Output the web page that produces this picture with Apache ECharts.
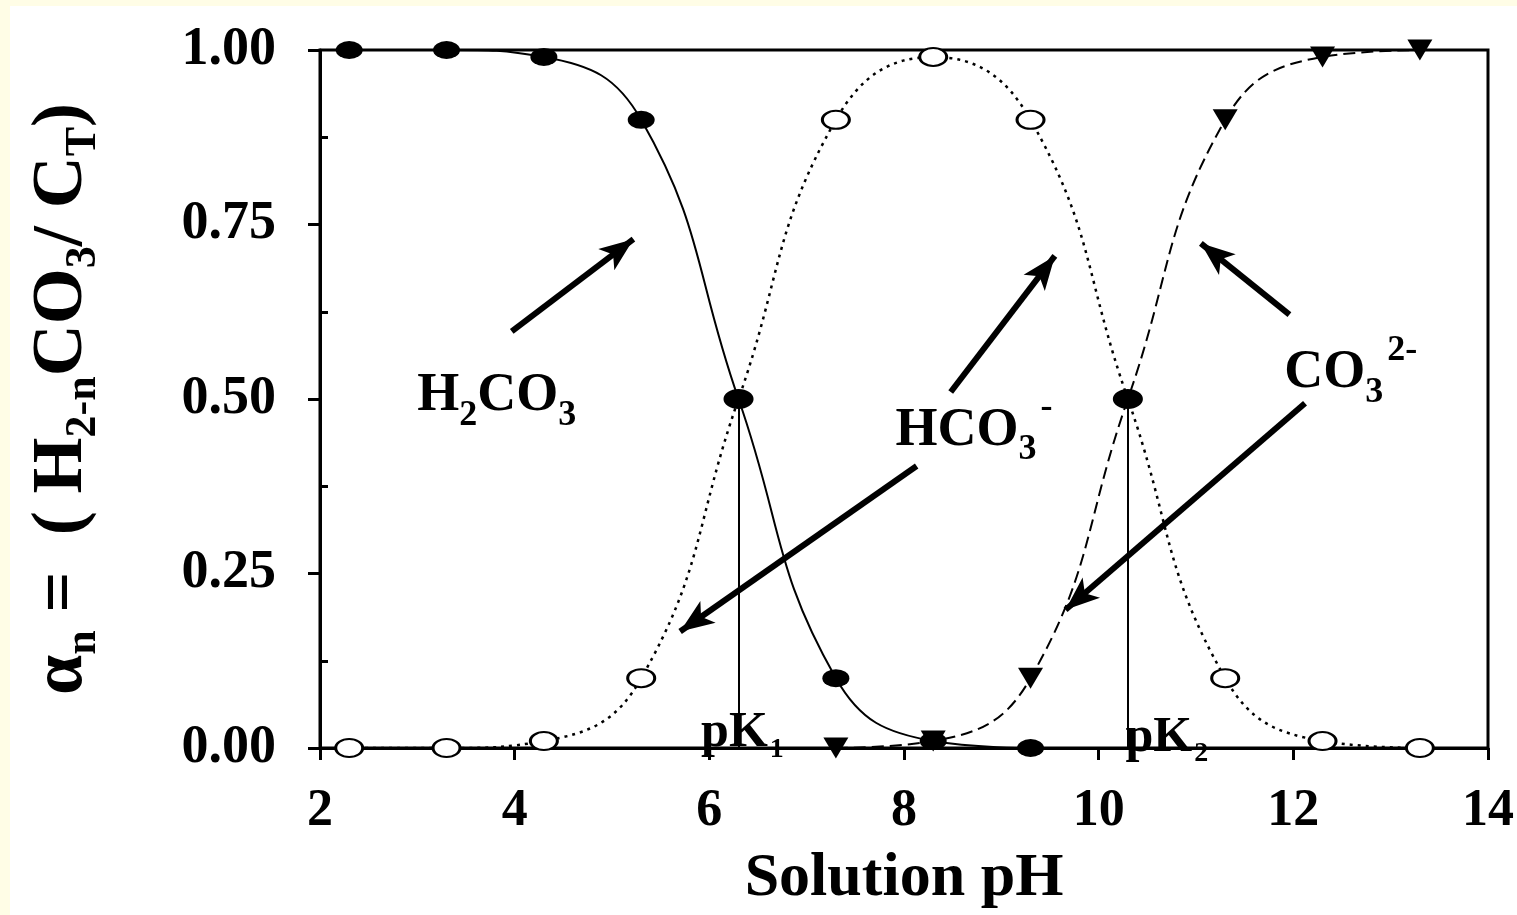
<!DOCTYPE html>
<html><head><meta charset="utf-8">
<script src="https://cdn.jsdelivr.net/npm/echarts@6/dist/echarts.min.js"></script>
<style>
html,body{margin:0;padding:0;background:#fffde6;width:1517px;height:915px;overflow:hidden}
#c{position:absolute;left:10px;top:6px;width:1507px;height:909px;background:#fff}
</style></head><body><div id="c"></div>
<script>
// ---- data ----
const pH = [2.3, 3.3, 4.3, 5.3, 6.3, 7.3, 8.3, 9.3, 10.3, 11.3, 12.3, 13.3];
const alphaH2CO3 = [1.00, 1.00, 0.99, 0.90, 0.50, 0.10, 0.01, 0.00, null, null, null, null];
const alphaHCO3  = [0.00, 0.00, 0.01, 0.10, 0.50, 0.90, 0.99, 0.90, 0.50, 0.10, 0.01, 0.00];
const alphaCO3   = [null, null, null, null, null, 0.00, 0.01, 0.10, 0.50, 0.90, 0.99, 1.00];
const co3CirclePH = 10.3; // this CO3 point is drawn as a filled circle in the original
const xMin = 2, xMax = 14, xStep = 2;
const yMin = 0, yMax = 1, yStep = 0.25;
const pKValues = [6.3, 10.3];
const pKTop = 0.5;
// text annotations (data coordinates)
const labelNames = ['H2CO3', 'HCO3-', 'CO3 2-', 'pK1', 'pK2'];
const labelX = [3.815, 8.72, 12.59, 6.34, 10.70];
const labelY = [0.524, 0.474, 0.557, 0.021, 0.014];
// arrows (data coordinates): tail -> head
const arrowTailX = [3.97, 8.48, 8.13, 11.96, 12.12];
const arrowTailY = [0.597, 0.51, 0.404, 0.621, 0.494];
const arrowHeadX = [5.22, 9.55, 5.70, 11.05, 9.66];
const arrowHeadY = [0.729, 0.705, 0.167, 0.723, 0.198];

// ---- chart ----
const serif = '"Liberation Serif", "Times New Roman", serif';
const chart = echarts.init(document.getElementById('c'));
const toPairs = (vals) => pH.map((x, i) => vals[i] == null ? null : [x, vals[i]]).filter(Boolean);

const richAnno = {
  m: {fontSize: 54, fontWeight: 'bold', fontFamily: serif, color: '#000', lineHeight: 54, verticalAlign: 'top', padding: [14, 0, 0, 0]},
  s: {fontSize: 36, fontWeight: 'bold', fontFamily: serif, color: '#000', lineHeight: 36, verticalAlign: 'top', padding: [42, 0, 0, 0]},
  u: {fontSize: 36, fontWeight: 'bold', fontFamily: serif, color: '#000', lineHeight: 36, verticalAlign: 'top', padding: [0, 0, 0, 4]},
  p: {fontSize: 50, fontWeight: 'bold', fontFamily: serif, color: '#000', lineHeight: 50, verticalAlign: 'top'},
  ps: {fontSize: 28, fontWeight: 'bold', fontFamily: serif, color: '#000', lineHeight: 28, verticalAlign: 'top', padding: [27, 0, 0, 2]}
};
const labelRich = {
  'H2CO3': '{m|H}{s|2}{m|CO}{s|3}',
  'HCO3-': '{m|HCO}{s|3}{u|-}',
  'CO3 2-': '{m|CO}{s|3}{u|2-}',
  'pK1': '{p|pK}{ps|1}',
  'pK2': '{p|pK}{ps|2}'
};

const co3Data = toPairs(alphaCO3).map(p => p[0] === co3CirclePH
  ? {value: p, symbol: 'circle', symbolRotate: 0, symbolSize: [27, 18]}
  : {value: p});

const option = {
  animation: false,
  backgroundColor: '#fff',
  grid: {left: 310, right: 27, top: 44, bottom: 165, show: true, borderColor: '#000', borderWidth: 3, backgroundColor: '#fff'},
  xAxis: {
    type: 'value', min: xMin, max: xMax, interval: xStep,
    name: 'Solution pH', nameLocation: 'middle', nameGap: 100,
    nameTextStyle: {fontFamily: serif, fontWeight: 'bold', fontSize: 62, color: '#000'},
    axisLine: {lineStyle: {color: '#000', width: 3}},
    axisTick: {length: 12, lineStyle: {color: '#000', width: 3}},
    axisLabel: {margin: 38, fontFamily: serif, fontWeight: 'bold', fontSize: 52, color: '#000'},
    splitLine: {show: false}
  },
  yAxis: [{
    type: 'value', min: yMin, max: yMax, interval: yStep,
    name: '{a|α}{n|n}{a| =  ( H}{n|2-n}{a|CO}{n|3}{a|/ C}{n|T}{a|)}',
    nameLocation: 'middle', nameRotate: 90, nameGap: 222,
    nameTextStyle: {
      rich: {
        a: {fontSize: 72, fontWeight: 'bold', fontFamily: serif, color: '#000', lineHeight: 72, verticalAlign: 'top'},
        n: {fontSize: 44, fontWeight: 'bold', fontFamily: serif, color: '#000', lineHeight: 44, verticalAlign: 'top', padding: [36, 0, 0, 0]}
      }
    },
    axisLine: {lineStyle: {color: '#000', width: 3}},
    axisTick: {length: 12, lineStyle: {color: '#000', width: 3}},
    axisLabel: {margin: 44, fontFamily: serif, fontWeight: 'bold', fontSize: 54, color: '#000', formatter: v => v.toFixed(2)},
    splitLine: {show: false}
  }, {
    type: 'value', min: yMin, max: yMax, interval: yStep, position: 'left',
    axisLine: {show: false},
    axisTick: {show: false, inside: true},
    minorTick: {show: true, splitNumber: 2, length: 8, lineStyle: {color: '#000', width: 3}},
    axisLabel: {show: false},
    splitLine: {show: false}
  }],
  series: [
    {
      name: 'HCO3-', type: 'line', data: toPairs(alphaHCO3), smooth: 0.45, clip: false, z: 2,
      symbol: 'circle', symbolSize: [27, 18], showAllSymbol: true,
      itemStyle: {color: '#fff', borderColor: '#000', borderWidth: 2.5},
      lineStyle: {color: '#000', width: 2.5, type: [3, 5]}
    },
    {
      name: 'H2CO3', type: 'line', data: toPairs(alphaH2CO3), smooth: 0.45, clip: false, z: 3,
      symbol: 'circle', symbolSize: [27, 18], showAllSymbol: true,
      itemStyle: {color: '#000'},
      lineStyle: {color: '#000', width: 2}
    },
    {
      name: 'CO3 2-', type: 'line', data: co3Data, smooth: 0.45, clip: false, z: 4,
      symbol: 'triangle', symbolRotate: 180, symbolSize: [25, 21], showAllSymbol: true,
      itemStyle: {color: '#000'},
      lineStyle: {color: '#000', width: 2, type: [12, 6]}
    },
    {
      name: 'pK', type: 'line', data: [], z: 1, silent: true,
      markLine: {
        silent: true, animation: false, symbol: 'none', label: {show: false},
        lineStyle: {color: '#000', width: 2, type: 'solid'},
        data: pKValues.map(v => [{coord: [v, yMin]}, {coord: [v, pKTop]}])
      }
    },
    {
      name: 'annotations', type: 'scatter', silent: true, z: 6,
      symbolSize: 0, itemStyle: {opacity: 1},
      data: labelNames.map((n, i) => ({name: n, value: [labelX[i], labelY[i]]})),
      label: {show: true, position: 'inside', formatter: p => labelRich[p.name], rich: richAnno},
      markLine: {
        silent: true, animation: false, label: {show: false},
        symbol: ['none', 'arrow'], symbolSize: [20, 34],
        lineStyle: {color: '#000', width: 6, type: 'solid', opacity: 1},
        itemStyle: {color: '#000'},
        data: arrowTailX.map((x, i) => [
          {coord: [x, arrowTailY[i]]},
          {coord: [arrowHeadX[i], arrowHeadY[i]]}
        ])
      }
    }
  ]
};
chart.setOption(option);
</script></body></html>
